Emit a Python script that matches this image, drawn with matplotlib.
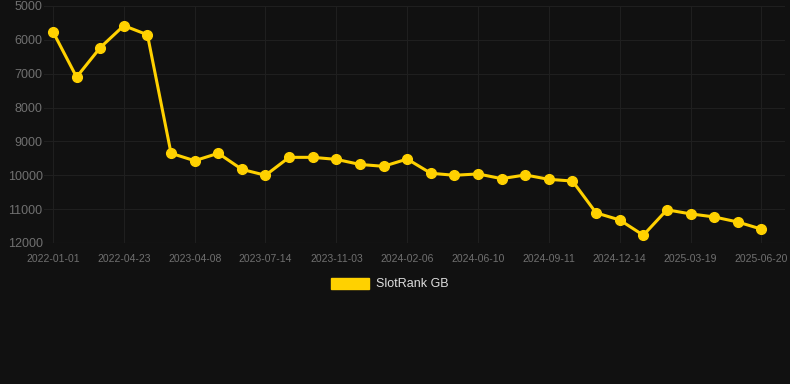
import numpy as np
from matplotlib import pyplot as plt
from matplotlib.patches import Patch

# rank values, one per observation (lower on the chart = worse rank)
ranks = [5760, 7100, 6230, 5580, 5850, 9350, 9570, 9350, 9825, 10000,
         9470, 9470, 9530, 9680, 9735, 9520, 9940, 10000, 9960, 10100,
         9990, 10120, 10170, 11110, 11320, 11770, 11020, 11140, 11230, 11380,
         11590]
tick_labels = ['2022-01-01', '2022-04-23', '2023-04-08', '2023-07-14', '2023-11-03',
               '2024-02-06', '2024-06-10', '2024-09-11', '2024-12-14', '2025-03-19',
               '2025-06-20']
tick_pos = list(range(0, len(ranks), 3))
y_ticks = [5000, 6000, 7000, 8000, 9000, 10000, 11000, 12000]

bg = '#111111'
gold = '#FFD100'
plt.rcParams['font.family'] = ['Liberation Sans', 'DejaVu Sans']

fig = plt.figure(figsize=(7.9, 3.84), dpi=100, facecolor=bg)
ax = fig.add_axes([44 / 790, 141 / 384, 741 / 790, 237 / 384], facecolor=bg)

x = np.arange(len(ranks))
ax.plot(x, ranks, color=gold, linewidth=2.2, marker='o', markersize=7,
        markerfacecolor=gold, markeredgecolor=gold, zorder=3)

ax.set_xlim(-0.38, 31.0)
ax.set_ylim(12000, 5000)
ax.set_yticks(y_ticks)
ax.set_yticklabels([str(v) for v in y_ticks])
ax.set_xticks(tick_pos)
ax.set_xticklabels(tick_labels)

ax.grid(True, color='#1f1f1f', linewidth=0.8)
for s in ax.spines.values():
    s.set_visible(False)
ax.tick_params(axis='y', colors='#707070', labelsize=9, length=0, pad=1)
ax.tick_params(axis='x', colors='#707070', labelsize=7.5, length=0, pad=8)
ax.axhline(12000, color='#2a2a2a', linewidth=0.8)

leg = fig.legend(handles=[Patch(facecolor=gold, edgecolor=gold, label='SlotRank GB')],
                 loc='center', bbox_to_anchor=(390 / 790, 1 - 284 / 384),
                 frameon=False, fontsize=9, handlelength=3.0, handleheight=1.0,
                 handletextpad=0.6)
for t in leg.get_texts():
    t.set_color('#dddddd')

fig.savefig('out.png', dpi=100, facecolor=bg)
